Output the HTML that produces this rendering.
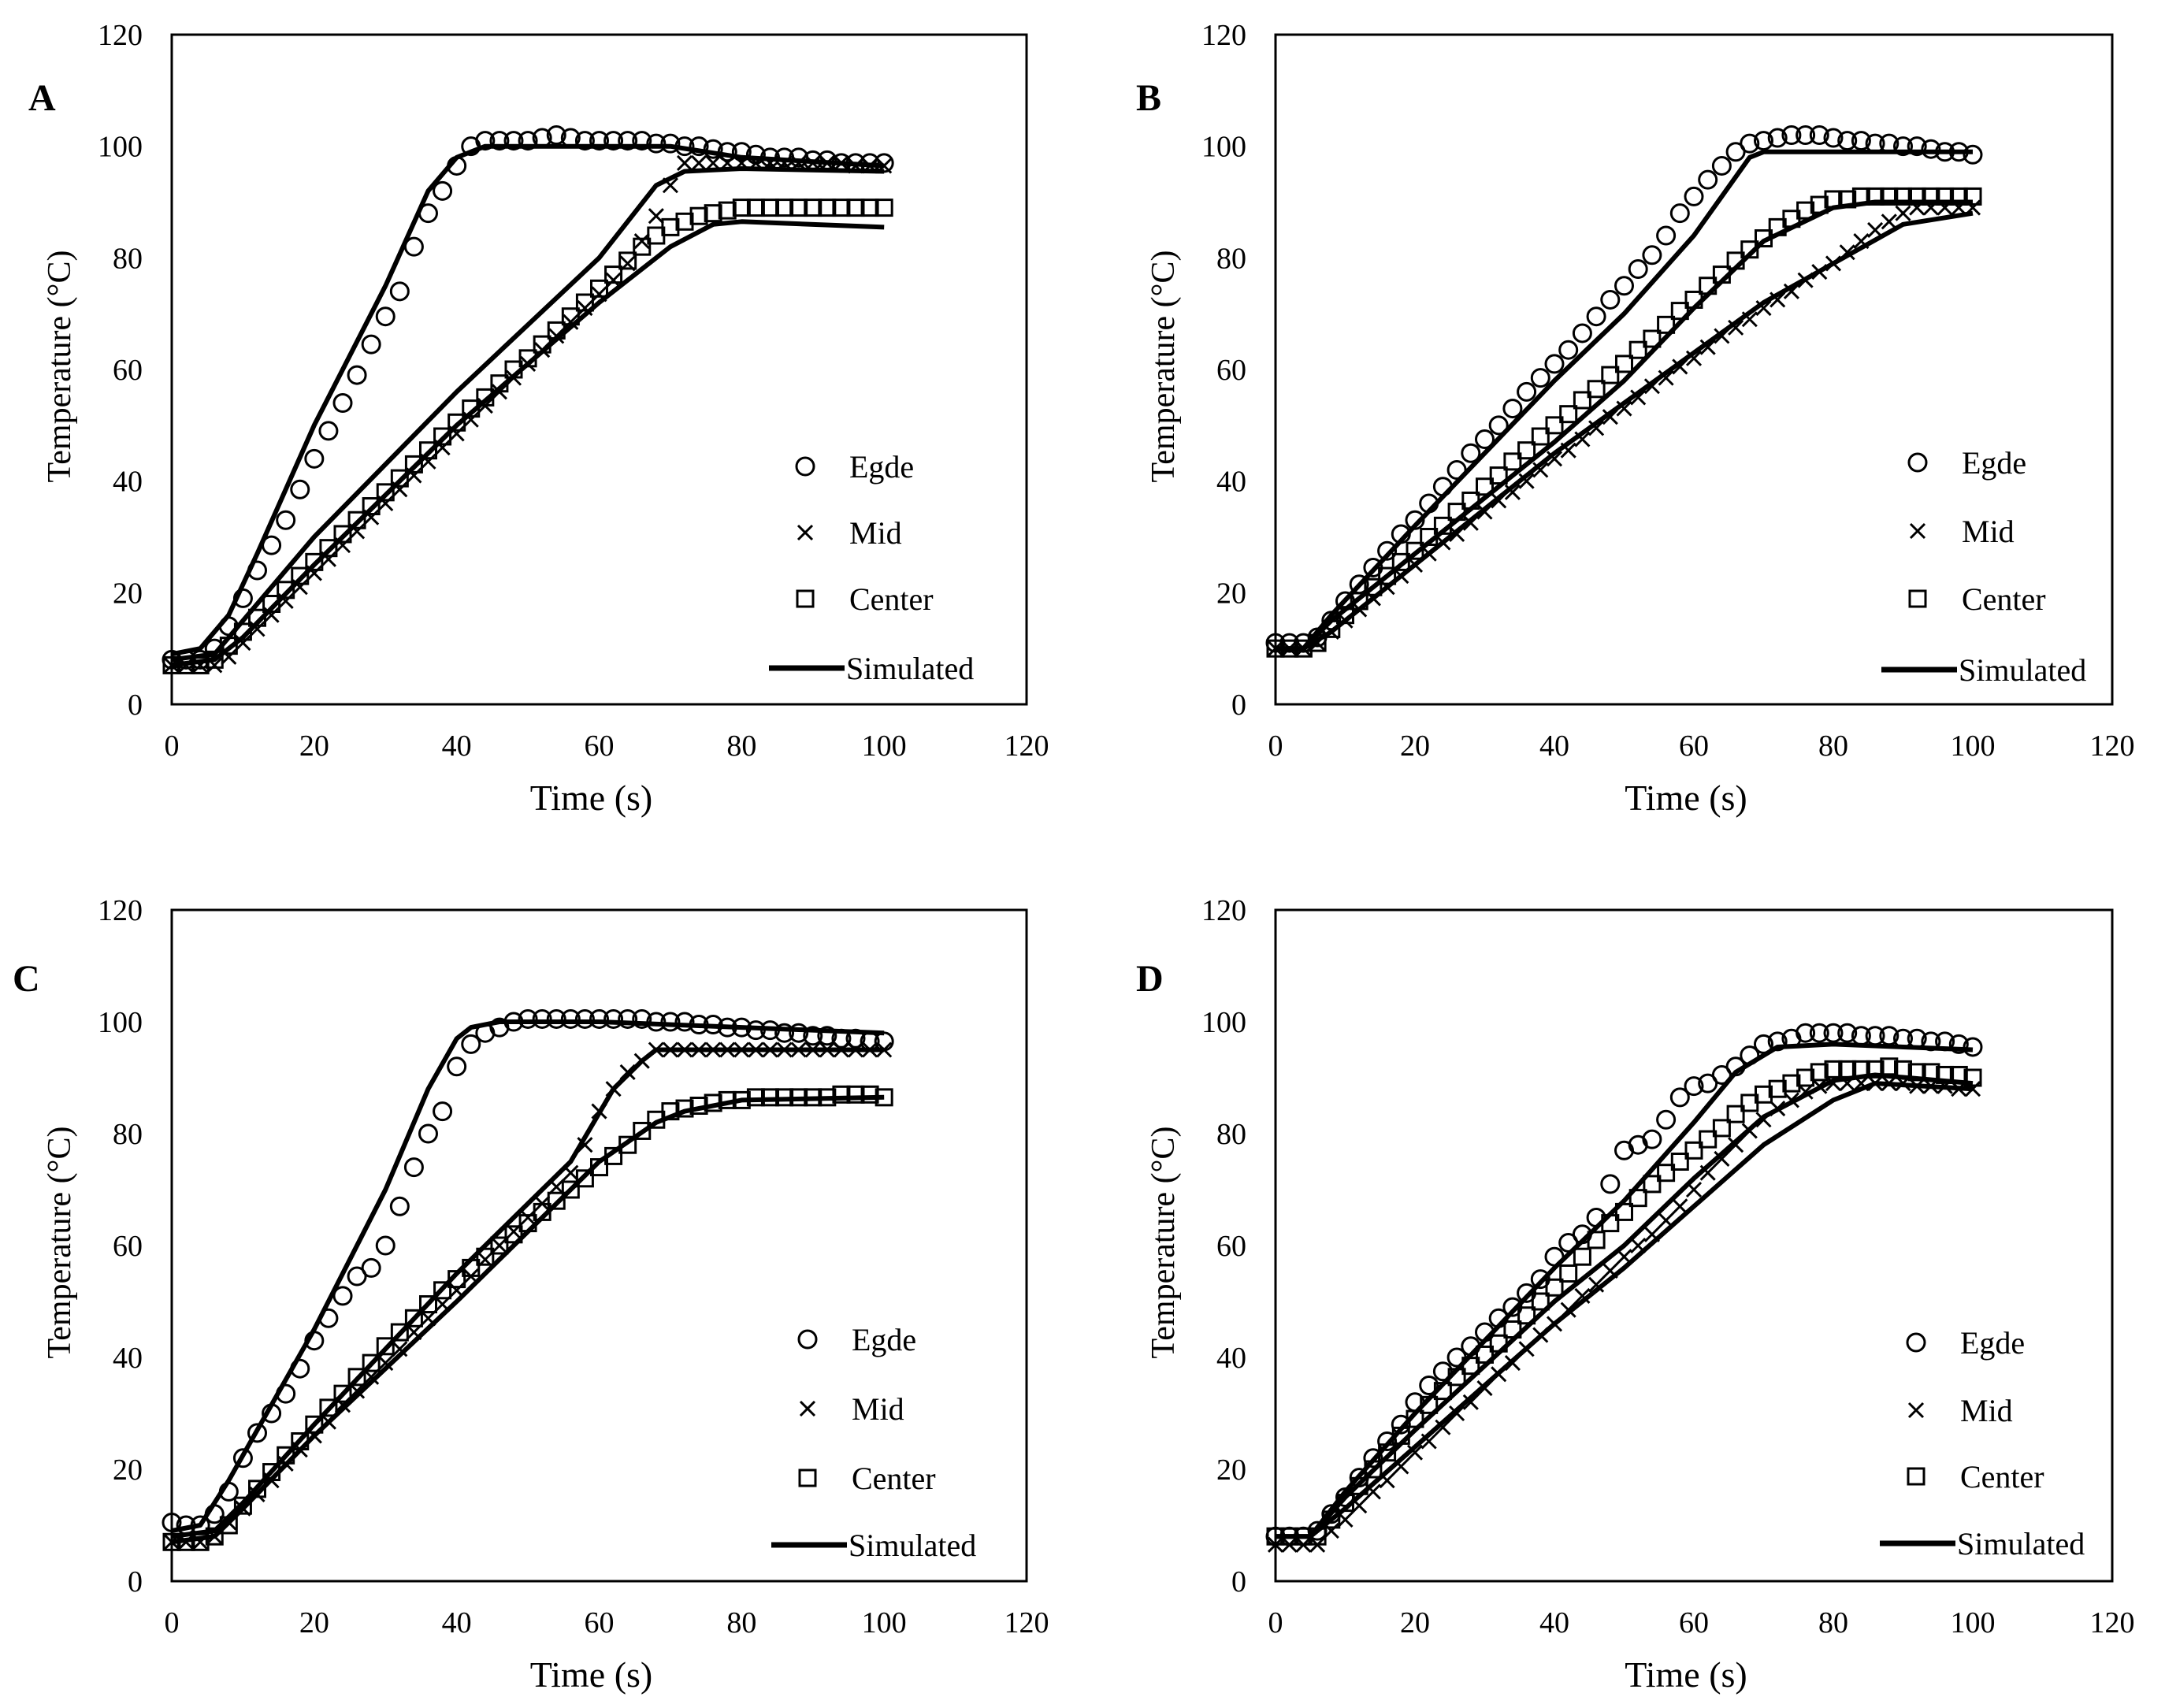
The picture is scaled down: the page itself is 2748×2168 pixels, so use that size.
<!DOCTYPE html>
<html><head><meta charset="utf-8">
<style>
html,body{margin:0;padding:0;background:#fff;}
svg{display:block;font-family:"Liberation Serif",serif;}
</style></head>
<body>
<svg id="fig" width="2748" height="2168" viewBox="0 0 2748 2168" xmlns="http://www.w3.org/2000/svg">
<rect x="0" y="0" width="2748" height="2168" fill="#fff"/>
</svg>
<script>
// ---- Data (measured at 2 s intervals starting at t=0) ----
const xTicks = [0,20,40,60,80,100,120];
const yTicks = [0,20,40,60,80,100,120];
const legendLabels = ["Egde","Mid","Center","Simulated"];
const panelLetters = ["A","B","C","D"];

const edgeA = [8,8,8,10,14,19,24,28.5,33,38.5,44,49,54,59,64.5,69.5,74,82,88,92,96.5,100,101,101,101,101,101.5,102,101.5,101,101,101,101,101,100.5,100.5,100,100,99.5,99,99,98.5,98,98,98,97.5,97.5,97,97,97,97];
const midA = [7,7,7,7,8.5,11,13.5,16,18.5,21,23.5,26,28.5,31,33.5,36,38.5,41,43.5,46,48.5,51,53.5,56,58.5,61,63.5,66,68.5,71,73.5,76,79,83,87.5,93,97,97,97,97,97,97,97,97,97,97,97,97,96.5,96.5,96.5];
const centerA = [7,7,7,8,10.5,13,15.5,18,20.5,23,25.5,28,30.5,33,35.5,38,40.5,43,45.5,48,50.5,53,55,57.5,60,62,64.5,67,69.5,72,74.5,77,79.5,82,84,85.5,86.5,87.5,88,88.5,89,89,89,89,89,89,89,89,89,89,89];
const simEdgeAT = [0,4,8,12,20,30,36,40,44,50,70,80,100];
const simEdgeAV = [9,10,16,27,50,75,92,98,100,100,100,98,96.5];
const simMidAT = [0,6,10,20,40,60,68,72,80,100];
const simMidAV = [8,9,15,30,56,80,93,95.5,96,95.5];
const simCenterAT = [0,6,10,20,40,60,70,76,80,100];
const simCenterAV = [7,8,12,25,50,72,82,86,86.5,85.5];

const edgeB = [11,11,11,12,15,18.5,21.5,24.5,27.5,30.5,33,36,39,42,45,47.5,50,53,56,58.5,61,63.5,66.5,69.5,72.5,75,78,80.5,84,88,91,94,96.5,99,100.5,101,101.5,102,102,102,101.5,101,101,100.5,100.5,100,100,99.5,99,99,98.5];
const midB = [10,10,10,11,13,15,17,19,21,23,25,27,29,30.5,32.5,34.5,36.5,38,40,42,44,45.5,47.5,49.5,51.5,53,55,57,58.5,60.5,62,64,66,67.5,69,71,72.5,74,76,77.5,79,81,83,85,86.5,88,89,89,89,89,89];
const centerB = [10,10,10,11,13.5,16,18.5,21,23,25.5,27.5,30,32,34.5,36.5,39,41,43.5,45.5,48,50,52,54.5,56.5,59,61,63.5,65.5,68,70.5,72.5,75,77,79.5,81.5,83.5,85.5,87,88.5,89.5,90.5,90.5,91,91,91,91,91,91,91,91,91];
const simEdgeBT = [0,4,8,20,40,50,60,68,70,100];
const simEdgeBV = [10,10,16,32,58,70,84,98,99,99];
const simMidBT = [0,4,8,20,40,60,70,80,90,100];
const simMidBV = [10,10,13,25,45,63,72,79,86,88];
const simCenterBT = [0,4,8,20,40,50,60,70,80,86,100];
const simCenterBV = [10,10,15,27,47,58,71,83,89,90,90];

const edgeC = [10.5,10,10,12,16,22,26.5,30,33.5,38,43,47,51,54.5,56,60,67,74,80,84,92,96,98,99,100,100.5,100.5,100.5,100.5,100.5,100.5,100.5,100.5,100.5,100,100,100,99.5,99.5,99,99,98.5,98.5,98,98,97.5,97.5,97,97,96.5,96.5];
const midC = [7,7,7,8,10.5,13,15.5,18,21,23.5,26,28.5,31.5,34,36.5,39,41.5,44.5,47,49.5,52,54.5,57.5,60,62.5,65,67.5,70.5,73,78,84,88,91,93,95,95,95,95,95,95,95,95,95,95,95,95,95,95,95,95,95];
const centerC = [7,7,7,8,10,13.5,16.5,19.5,22.5,25,28,31,33.5,36.5,39,42,44.5,47,49.5,52,54,56,58,60,62,64,66,68,70,72,74,76,78,80.5,82.5,84,84.5,85,85.5,86,86,86.5,86.5,86.5,86.5,86.5,86.5,87,87,87,86.5];
const simEdgeCT = [0,4,8,20,30,36,40,42,46,60,80,100];
const simEdgeCV = [9,10,18,45,70,88,97,99,100,100,99,98];
const simMidCT = [0,6,10,20,40,56,62,66,68,100];
const simMidCV = [8,9,14,28,55,75,88,93,95,95];
const simCenterCT = [0,6,10,20,40,60,68,72,80,100];
const simCenterCV = [7,8,13,26,50,75,82,84,86,86.5];

const edgeD = [8,8,8,9,12,15,18.5,22,25,28,32,35,37.5,40,42,44.5,47,49,51.5,54,58,60.5,62,65,71,77,78,79,82.5,86.5,88.5,89,90.5,92,94,96,96.5,97,98,98,98,98,97.5,97.5,97.5,97,97,96.5,96.5,96,95.5];
const midD = [6.5,6.5,6.5,6.5,9,11,13.5,16,18,20.5,23,25,27.5,30,32,34.5,37,39,41.5,44,46,48.5,51,53,55.5,58,60,62,64.5,67,70,73,75.5,78,80.5,82.5,84.5,86,87.5,88.5,89,89,89,89,89,89,88.5,88.5,88.5,88,88];
const centerD = [8,8,8,8,11,14,17,20,23,26,29,31.5,34,36.5,38.5,40.5,42.5,45,47.5,50,52.5,55,58,61,64,66,68.5,71,73,75,77,79,81,83.5,85.5,87,88,89,90,91,91.5,91.5,91.5,91.5,92,91.5,91,91,90.5,90.5,90];
const simEdgeDT = [0,5,10,20,40,50,60,66,72,80,100];
const simEdgeDV = [8,8,16,30,56,68,82,91,95.5,96,95];
const simMidDT = [0,5,10,20,40,50,60,70,80,86,100];
const simMidDV = [8,8,13,24,46,56,67,78,86,89,88];
const simCenterDT = [0,5,10,20,40,50,60,70,80,86,100];
const simCenterDV = [8,8,15,27,50,60,72,83,89.5,90.5,89];

const SVGNS = "http://www.w3.org/2000/svg";
const fig = document.getElementById('fig');
function mk(tag, attrs, parent){
  const e = document.createElementNS(SVGNS, tag);
  for (const k in attrs) e.setAttribute(k, attrs[k]);
  parent.appendChild(e);
  return e;
}

const panels = [
  {letter:0, left:218, top:44, w:1085, h:850, edge:edgeA, mid:midA, center:centerA,
   sims:[[simEdgeAT,simEdgeAV],[simMidAT,simMidAV],[simCenterAT,simCenterAV]], lx:1024, ly:[592,676,760,848], letterX:36, letterY:140},
  {letter:1, left:1619, top:44, w:1062, h:850, edge:edgeB, mid:midB, center:centerB,
   sims:[[simEdgeBT,simEdgeBV],[simMidBT,simMidBV],[simCenterBT,simCenterBV]], lx:2436, ly:[587,674,760,850], letterX:1442, letterY:140},
  {letter:2, left:218, top:1155, w:1085, h:852, edge:edgeC, mid:midC, center:centerC,
   sims:[[simEdgeCT,simEdgeCV],[simMidCT,simMidCV],[simCenterCT,simCenterCV]], lx:1027, ly:[1700,1788,1876,1961], letterX:16, letterY:1258},
  {letter:3, left:1619, top:1155, w:1062, h:852, edge:edgeD, mid:midD, center:centerD,
   sims:[[simEdgeDT,simEdgeDV],[simMidDT,simMidDV],[simCenterDT,simCenterDV]], lx:2434, ly:[1704,1790,1874,1959], letterX:1442, letterY:1258}
];

function circleMark(g, cx, cy){ return mk('circle',{cx:cx,cy:cy,r:11,fill:'none',stroke:'#000','stroke-width':3},g); }
function crossMark(g, cx, cy){
  const s=9;
  return mk('path',{d:`M${cx-s},${cy-s}L${cx+s},${cy+s}M${cx-s},${cy+s}L${cx+s},${cy-s}`,stroke:'#000','stroke-width':3,fill:'none'},g);
}
function squareMark(g, cx, cy){ return mk('rect',{x:cx-10,y:cy-10,width:20,height:20,fill:'none',stroke:'#000','stroke-width':3},g); }

panels.forEach((p, pi) => {
  const g = mk('g',{},fig);
  
  
  const xs = v => p.left + v/120*p.w;
  const ys = v => p.top + p.h - v/120*p.h;

  yTicks.forEach(t => {
    const tx = mk('text',{x:p.left-37,y:ys(t)+13,'text-anchor':'end','font-size':38,fill:'#000'},g);
    tx.textContent = t;
    
    
  });
  xTicks.forEach(t => {
    const tx = mk('text',{x:xs(t),y:p.top+p.h+65,'text-anchor':'middle','font-size':38,fill:'#000'},g);
    tx.textContent = t;
    
    
  });
  const xt = mk('text',{x:p.left+p.w/2-10,y:p.top+p.h+134,'text-anchor':'middle','font-size':46,fill:'#000'},g);
  xt.textContent = 'Time (s)';
  
  
  const cyT = p.top + p.h/2 - 4;
  const yt = mk('text',{x:p.left-144,y:cyT,'text-anchor':'middle','font-size':42,fill:'#000',transform:`rotate(-90 ${p.left-144} ${cyT}) translate(0 15)`},g);
  yt.textContent = 'Temperature (°C)';
  
  
  const lt = mk('text',{x:p.letterX,y:p.letterY,'font-size':48,'font-weight':'bold',fill:'#000'},g);
  lt.textContent = panelLetters[p.letter];
  
  

  p.sims.forEach(s => {
    const d = s[0].map((t,i)=>(i?'L':'M')+xs(t).toFixed(1)+','+ys(s[1][i]).toFixed(1)).join('');
    const pl = mk('path',{d:d,fill:'none',stroke:'#000','stroke-width':6,'stroke-linejoin':'round'},g);
    
    
  });
  const sets = [[p.center, squareMark, 'center-point'],[p.mid, crossMark, 'mid-point'],[p.edge, circleMark, 'edge-point']];
  sets.forEach(([arr, fn, nm]) => {
    arr.forEach((v,i) => {
      const m = fn(g, xs(i*2), ys(v));
      
      
    });
  });

  const fr = mk('rect',{x:p.left,y:p.top,width:p.w,height:p.h,fill:'none',stroke:'#000','stroke-width':3},g);
  
  

  const lg = mk('g',{},g);
  
  
  const mx = p.lx - 2;
  const e1 = circleMark(lg, mx, p.ly[0]);  
  const e2 = crossMark(lg, mx, p.ly[1]);  
  const e3 = squareMark(lg, mx, p.ly[2]);  
  const ln = mk('line',{x1:mx-46,y1:p.ly[3],x2:mx+50,y2:p.ly[3],stroke:'#000','stroke-width':7},lg);
  
  
  legendLabels.forEach((lab, i) => {
    const t = mk('text',{x:mx + (i===3?52:56),y:p.ly[i]+14,'font-size':40,fill:'#000'},lg);
    t.textContent = lab;
    
    
  });
});
</script>
</body></html>
